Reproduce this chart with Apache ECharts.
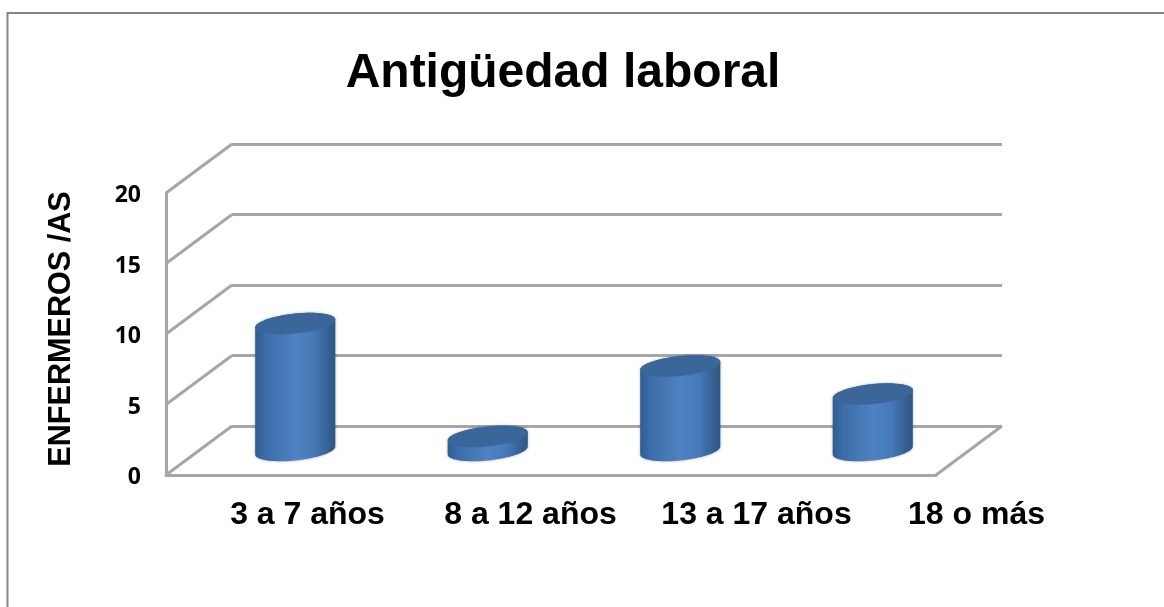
<!DOCTYPE html>
<html>
<head>
<meta charset="utf-8">
<title>Antigüedad laboral</title>
<script src="https://cdn.jsdelivr.net/npm/echarts@6/dist/echarts.min.js"></script>
<style>
html, body { margin: 0; padding: 0; background: #fff; }
#main { width: 1164px; height: 607px; }
</style>
</head>
<body>
<div id="main"></div>
<script>
const categories = ['3 a 7 años', '8 a 12 años', '13 a 17 años', '18 o más']
const enfermeros = [9, 1, 6, 4]
const yTicks = [0, 5, 10, 15, 20]

// desplazamiento de la pared del fondo respecto al plano frontal
const DEPTH_X = 66
const DEPTH_Y = 49
const WALL = '#a6a6a6'
const LABEL_FONT = { fontFamily: 'Liberation Sans', fontWeight: 'bold', fontSize: 32, color: '#000' }

const chart = echarts.init(document.getElementById('main'))

function ellipsePoints(cx, cy, rx, from, to) {
  const pts = []
  for (let i = 0; i <= 40; i++) {
    const t = from + (to - from) * i / 40
    pts.push([cx + rx * Math.cos(t), cy - 4 * Math.cos(t) + 10 * Math.sin(t)])
  }
  return pts
}

function renderWalls(params, api) {
  const sys = params.coordSys
  const y = api.coord([0, api.value(0)])[1]
  const children = [{
    type: 'line',
    shape: { x1: sys.x, y1: y, x2: sys.x + DEPTH_X, y2: y - DEPTH_Y },
    style: { stroke: WALL, lineWidth: 3 }
  }]
  // borde derecho del suelo
  if (api.value(0) === 0) {
    children.push({
      type: 'line',
      shape: { x1: sys.x + sys.width, y1: y, x2: sys.x + sys.width + DEPTH_X, y2: y - DEPTH_Y },
      style: { stroke: WALL, lineWidth: 3 }
    })
  }
  return { type: 'group', children }
}

function renderCylinder(params, api) {
  const idx = api.value(0)
  const base = api.coord([idx, 0])
  const top = api.coord([idx, api.value(1)])
  const rx = api.size([1, 0])[0] * 0.208
  const cx = base[0] + DEPTH_X / 2
  const yBase = base[1] - DEPTH_Y / 2
  const yTop = top[1] - DEPTH_Y / 2
  const body = ellipsePoints(cx, yBase, rx, 0, Math.PI)
    .concat(ellipsePoints(cx, yTop, rx, Math.PI, Math.PI * 2))
  return {
    type: 'group',
    children: [{
      type: 'polygon',
      shape: { points: body },
      style: {
        fill: new echarts.graphic.LinearGradient(0, 0, 1, 0, [
          { offset: 0, color: '#2f5d92' },
          { offset: 0.12, color: '#3b6ca8' },
          { offset: 0.5, color: '#4f82c2' },
          { offset: 0.72, color: '#477ab8' },
          { offset: 0.92, color: '#355f92' },
          { offset: 1, color: '#2f5784' }
        ]),
        shadowBlur: 3,
        shadowColor: 'rgba(0,0,0,0.3)'
      }
    }, {
      type: 'polygon',
      shape: { points: ellipsePoints(cx, yTop, rx, 0, Math.PI * 2) },
      style: { fill: '#3a6699' }
    }]
  }
}

chart.setOption({
  animation: false,
  backgroundColor: '#fff',
  title: {
    text: 'Antigüedad laboral',
    left: 558,
    top: 45,
    textAlign: 'center',
    textStyle: { fontFamily: 'Liberation Sans', fontWeight: 'bold', fontSize: 48, color: '#000' }
  },
  graphic: [{
    type: 'polyline',
    silent: true,
    shape: { points: [[7.5, 607], [7.5, 13], [1164, 13]] },
    style: { stroke: '#868686', lineWidth: 2, fill: null }
  }],
  grid: [
    { left: 166, top: 193, width: 770, height: 282 },   // plano frontal
    { left: 232, top: 144, width: 770, height: 282 },   // pared del fondo
    { left: 196, top: 490, width: 892, height: 1 },     // etiquetas de categoria
    { left: 166, top: 195.5, width: 770, height: 282 }  // etiquetas del eje y, algo mas abajo
  ],
  xAxis: [
    {
      gridIndex: 0, type: 'category', data: categories,
      axisLine: { lineStyle: { color: WALL, width: 3 } },
      axisTick: { show: false }, axisLabel: { show: false }
    },
    { gridIndex: 1, type: 'category', data: categories, show: false },
    {
      gridIndex: 2, type: 'category', data: categories, position: 'bottom',
      axisLine: { show: false }, axisTick: { show: false },
      axisLabel: {
        ...LABEL_FONT,
        interval: 0,
        margin: 8,
        // la tercera etiqueta queda algo a la derecha en el original
        formatter: (v, i) => i === 2 ? '{shift|' + v + '}' : v,
        rich: { shift: { ...LABEL_FONT, padding: [0, 0, 0, 6] } }
      }
    },
    { gridIndex: 3, type: 'category', data: categories, show: false }
  ],
  yAxis: [
    {
      gridIndex: 0, type: 'value', min: 0, max: 20, interval: 5,
      name: 'ENFERMEROS /AS', nameLocation: 'middle', nameGap: 89, nameRotate: 90,
      nameTextStyle: {
        fontFamily: 'Liberation Sans', fontWeight: 'bold', fontSize: 30.6, color: '#000',
        padding: [0, 0, 0, 10]
      },
      axisLine: { show: true, lineStyle: { color: WALL, width: 3 } },
      axisTick: { show: false },
      splitLine: { show: false },
      axisLabel: { show: false }
    },
    {
      gridIndex: 1, type: 'value', min: 0, max: 20, interval: 5,
      axisLine: { show: false }, axisTick: { show: false }, axisLabel: { show: false },
      splitLine: { show: true, lineStyle: { color: WALL, width: 3 } }
    },
    { gridIndex: 2, type: 'value', show: false },
    {
      gridIndex: 3, type: 'value', min: 0, max: 20, interval: 5,
      axisLine: { show: false }, axisTick: { show: false }, splitLine: { show: false },
      axisLabel: { fontFamily: 'Open Sans', fontWeight: 'bold', fontSize: 23, color: '#000', margin: 25 }
    }
  ],
  series: [
    {
      type: 'custom', xAxisIndex: 0, yAxisIndex: 0, silent: true, z: 3,
      renderItem: renderWalls,
      data: yTicks.map(v => [v]),
      encode: { y: 0 }
    },
    {
      type: 'custom', xAxisIndex: 0, yAxisIndex: 0, silent: true, z: 5,
      renderItem: renderCylinder,
      data: enfermeros.map((v, i) => [i, v]),
      encode: { x: 0, y: 1 }
    }
  ]
})
</script>
</body>
</html>
